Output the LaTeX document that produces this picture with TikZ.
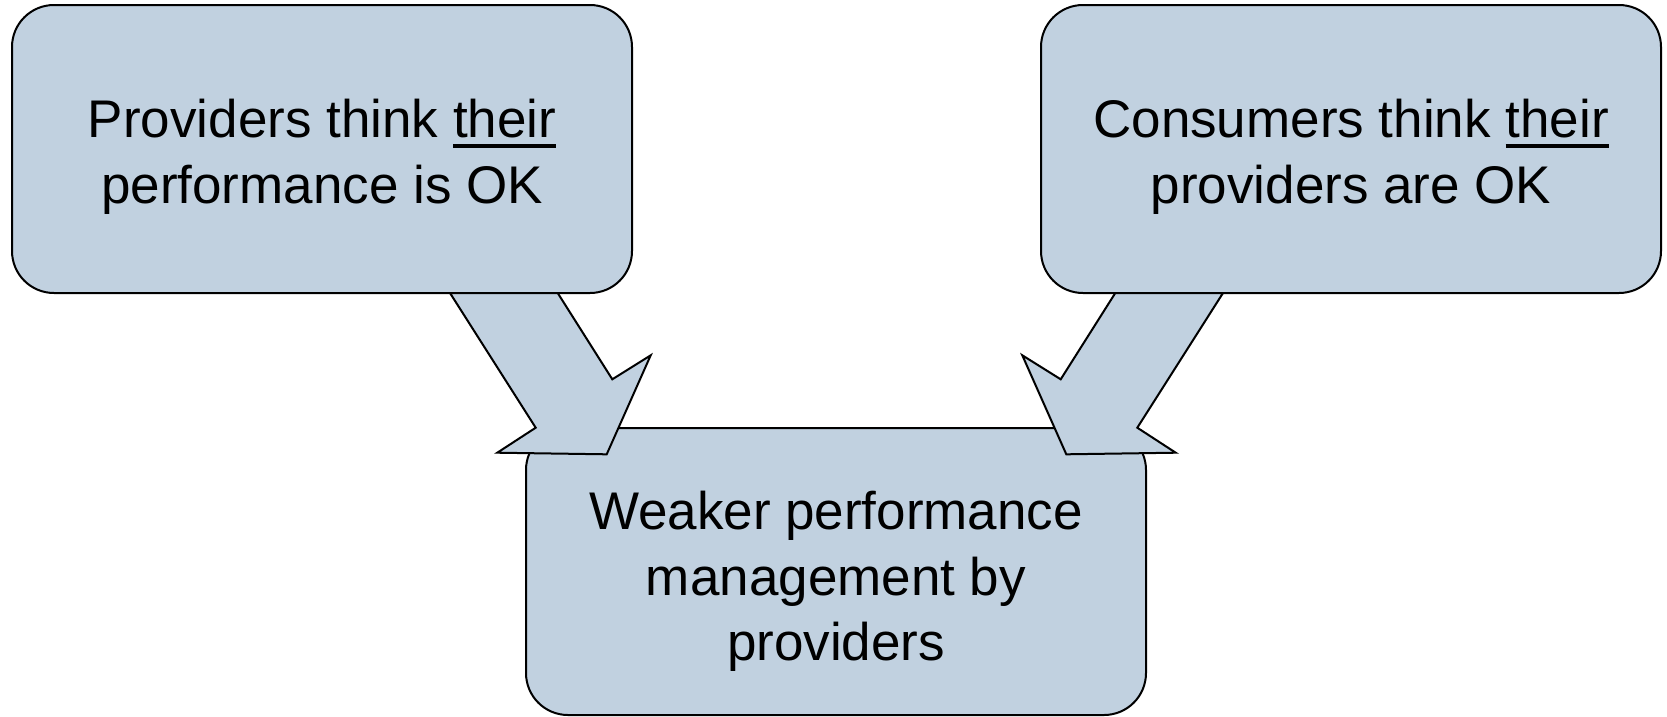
\documentclass[tikz,border=0pt]{standalone}
\usepackage{fontspec}
\setmainfont{Liberation Sans}
\definecolor{boxfill}{RGB}{193,209,224}
\newcommand\ulword[1]{\setbox0\hbox{#1}\rlap{\rule[-9.6pt]{\wd0}{3.8pt}}#1}
\tikzset{
  card/.style={draw=black, line width=2pt, fill=boxfill, rounded corners=42pt,
    minimum width=620pt, minimum height=288pt, inner sep=0pt},
  cardtext/.style={inner sep=0pt, align=center,
    font=\fontsize{53}{65.5}\selectfont},
  blockarrow/.style={draw=black, line width=2pt, fill=boxfill, line join=miter}
}
\begin{document}
\begin{tikzpicture}[x=1pt,y=-1pt]
\useasboundingbox (0,0) rectangle (1667,716);
\node[card] (prov) at (322,149) {};
\node[cardtext] (provtext) at ([yshift=-8pt]prov.center) {Providers think \ulword{their}\\performance is OK};
\node[card] (cons) at (1351,149) {};
\node[cardtext] (constext) at ([yshift=-8pt]cons.center) {Consumers think \ulword{their}\\providers are OK};
\node[card, minimum height=287pt] (weak) at (836,571.5) {};
\node[cardtext] (weaktext) at ([yshift=-10pt]weak.center) {Weaker performance\\management by\\providers};
\draw[blockarrow] (450,293) -- (535.7,427.7) -- (497.3,452.7) -- (606.7,454.3)
  -- (650.7,355.3) -- (612.3,379.3) -- (557.7,293) -- cycle;
\draw[blockarrow] (1223,293) -- (1137.3,427.7) -- (1175.7,452.7) -- (1066.3,454.3)
  -- (1022.3,355.3) -- (1060.7,379.3) -- (1115.3,293) -- cycle;
\end{tikzpicture}
\end{document}
